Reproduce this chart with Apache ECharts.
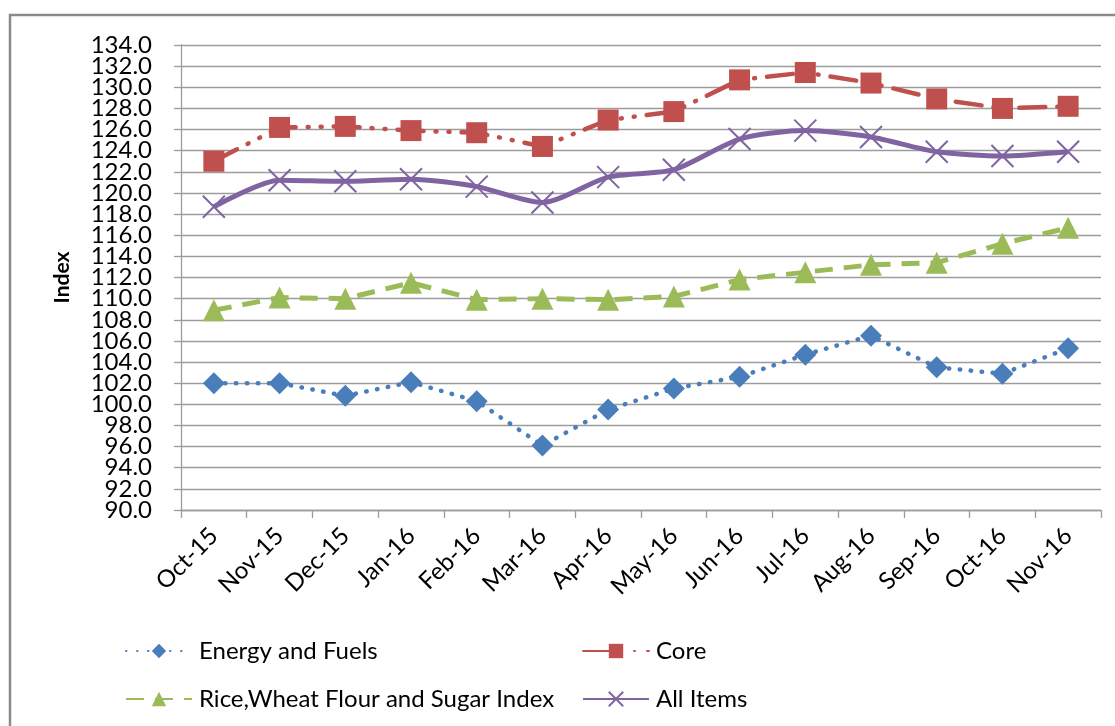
<!DOCTYPE html>
<html>
<head>
<meta charset="utf-8">
<script src="https://cdn.jsdelivr.net/npm/echarts@6/dist/echarts.min.js"></script>
<style>
  html, body { margin: 0; padding: 0; background: #fff; }
  #chart { width: 1115px; height: 726px; }
</style>
</head>
<body>
<div id="chart"></div>
<script>
// months on the x axis
const months = ['Oct-15', 'Nov-15', 'Dec-15', 'Jan-16', 'Feb-16', 'Mar-16', 'Apr-16',
  'May-16', 'Jun-16', 'Jul-16', 'Aug-16', 'Sep-16', 'Oct-16', 'Nov-16']

const energyFuels = [102.0, 102.0, 100.8, 102.1, 100.3, 96.1, 99.5, 101.5, 102.6, 104.7, 106.5, 103.5, 102.9, 105.3]
const core = [123.0, 126.2, 126.3, 125.9, 125.7, 124.4, 126.9, 127.7, 130.7, 131.4, 130.4, 128.9, 128.0, 128.2]
const riceWheatSugar = [108.9, 110.1, 110.0, 111.5, 109.9, 110.0, 109.9, 110.2, 111.8, 112.5, 113.2, 113.4, 115.2, 116.7]
const allItems = [118.7, 121.2, 121.1, 121.3, 120.6, 119.1, 121.5, 122.2, 125.1, 125.9, 125.3, 123.9, 123.5, 123.9]

const yMin = 90
const yMax = 134
const yStep = 2

const font = 'Lato, "Open Sans", sans-serif'
const gridGrey = '#9c9c9c'

const chart = echarts.init(document.getElementById('chart'), null, { renderer: 'canvas' })

const legendText = { fontFamily: font, fontSize: 24, lineHeight: 24, color: '#000', padding: [0, 0, 0, 2] }
const yLabel = { margin: 29, fontFamily: font, fontSize: 24, color: '#000' }

// labels sit only 21px apart, so they are split over two axes sharing the same scale
// (otherwise echarts drops the labels next to min / max)
const option = {
  animation: false,
  textStyle: { fontFamily: font, color: '#000' },
  graphic: [
    {
      type: 'rect',
      shape: { x: 10, y: 15, width: 1200, height: 800 },
      style: { fill: 'none', stroke: '#8a8a8a', lineWidth: 2.5 },
      silent: true
    }
  ],
  grid: {
    left: 181,
    top: 45,
    right: 14,
    bottom: 216
  },
  legend: [
    {
      orient: 'vertical',
      left: 120,
      top: 634,
      itemWidth: 66,
      itemHeight: 18,
      itemGap: 24,
      textStyle: legendText,
      data: ['Energy and Fuels', 'Rice,Wheat Flour and Sugar Index']
    },
    {
      orient: 'vertical',
      left: 577,
      top: 634,
      itemWidth: 66,
      itemHeight: 18,
      itemGap: 24,
      textStyle: legendText,
      data: ['Core', 'All Items']
    }
  ],
  xAxis: {
    type: 'category',
    data: months,
    boundaryGap: true,
    axisLine: { lineStyle: { color: gridGrey, width: 1.3 } },
    axisTick: { show: true, length: 8, lineStyle: { color: gridGrey, width: 1.3 } },
    axisLabel: {
      interval: 0,
      rotate: 45,
      margin: 22,
      fontFamily: font,
      fontSize: 24,
      color: '#000'
    },
    splitLine: { show: false }
  },
  yAxis: [
    {
      type: 'value',
      min: yMin,
      max: yMax,
      interval: yStep,
      position: 'left',
      name: 'Index',
      nameLocation: 'middle',
      nameRotate: 90,
      nameGap: 108,
      nameTextStyle: { fontFamily: font, fontSize: 21, fontWeight: 'bold', color: '#000' },
      axisLine: { show: true, lineStyle: { color: gridGrey, width: 1.3 } },
      axisTick: { show: true, length: 7, lineStyle: { color: gridGrey, width: 1.3 } },
      axisLabel: Object.assign({}, yLabel, {
        formatter: v => ((v - yMin) % (yStep * 2) === yStep ? v.toFixed(1) : '')
      }),
      splitLine: { show: true, lineStyle: { color: gridGrey, width: 1.3 } }
    },
    {
      type: 'value',
      min: yMin,
      max: yMax,
      interval: yStep * 2,
      position: 'left',
      offset: 0,
      axisLine: { show: false },
      axisTick: { show: false },
      axisLabel: Object.assign({}, yLabel, {
        showMinLabel: true,
        showMaxLabel: true,
        formatter: v => v.toFixed(1)
      }),
      splitLine: { show: false }
    }
  ],
  series: [
    {
      name: 'Energy and Fuels',
      type: 'line',
      data: energyFuels,
      symbol: 'diamond',
      symbolSize: 22,
      itemStyle: { color: '#4a7ebb' },
      lineStyle: { color: '#4a7ebb', width: 4.5, type: [0.5, 10.5], cap: 'round' },
      z: 2
    },
    {
      name: 'Core',
      type: 'line',
      data: core,
      symbol: 'rect',
      symbolSize: 21,
      itemStyle: { color: '#c0504d' },
      lineStyle: { color: '#c0504d', width: 4.5, type: [26, 12, 1, 12, 1, 12], cap: 'round' },
      z: 2
    },
    {
      name: 'Rice,Wheat Flour and Sugar Index',
      type: 'line',
      data: riceWheatSugar,
      symbol: 'triangle',
      symbolSize: 22,
      itemStyle: { color: '#9bbb59' },
      lineStyle: { color: '#9bbb59', width: 5, type: [18, 11] },
      z: 2
    },
    {
      name: 'All Items',
      type: 'line',
      data: allItems,
      smooth: 0.25,
      symbol: 'path://M0,0 L10,10 M10,0 L0,10',
      symbolSize: 22,
      symbolKeepAspect: true,
      itemStyle: { color: '#fff', borderColor: '#8064a2', borderWidth: 2 },
      lineStyle: { color: '#8064a2', width: 5 },
      z: 2
    }
  ]
}

chart.setOption(option)
</script>
</body>
</html>
